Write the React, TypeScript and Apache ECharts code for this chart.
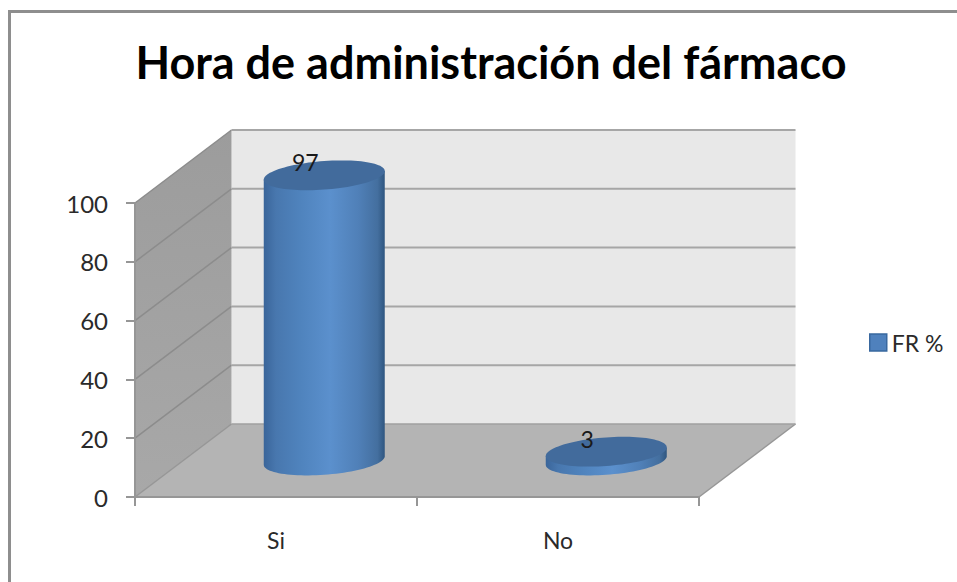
import React, { useEffect, useRef } from "react";
import * as echarts from "echarts";

const titleText = "Hora de administración del fármaco";
const categories = ["Si", "No"];
const seriesName = "FR %";
const values = [97, 3];
const yTicks = [0, 20, 40, 60, 80, 100];
const FONT = "Lato, Carlito, sans-serif";
const DX = 96.5;
const DY = -73;
const RX = 60.5;
const RY = 14.3;
const SHEAR = 4.3;

function halfArc(cx: number, cy: number, from: number, to: number) {
  const pts: number[][] = [];
  const n = 48;
  for (let i = 0; i <= n; i++) {
    const t = from + ((to - from) * i) / n;
    pts.push([cx + RX * Math.cos(t), cy + RY * Math.sin(t) - SHEAR * Math.cos(t)]);
  }
  return pts;
}

function renderWalls(params: any, api: any) {
  const cs = params.coordSys;
  const left = cs.x;
  const right = cs.x + cs.width;
  const y0 = api.coord([0, 0])[1];
  const yMax = api.coord([0, yTicks[yTicks.length - 1]])[1];
  const children: any[] = [
    {
      type: "polygon",
      shape: { points: [[left + DX, yMax + DY], [right + DX, yMax + DY], [right + DX, y0 + DY], [left + DX, y0 + DY]] },
      style: { fill: "#e8e8e8" },
    },
    {
      type: "polygon",
      shape: { points: [[left, y0], [left + DX, y0 + DY], [left + DX, yMax + DY], [left, yMax]] },
      style: { fill: new echarts.graphic.LinearGradient(0, 0, 0, 1, [
        { offset: 0, color: "#9c9c9c" },
        { offset: 1, color: "#a8a8a8" },
      ]) },
    },
    {
      type: "polygon",
      shape: { points: [[left, y0], [right, y0], [right + DX, y0 + DY], [left + DX, y0 + DY]] },
      style: { fill: "#b4b4b4" },
    },
    { type: "line", shape: { x1: left, y1: y0, x2: left + DX, y2: y0 + DY }, style: { stroke: "#969696", lineWidth: 1.5 } },
    { type: "line", shape: { x1: right, y1: y0, x2: right + DX, y2: y0 + DY }, style: { stroke: "#969696", lineWidth: 1.5 } },
    { type: "line", shape: { x1: left + DX, y1: y0 + DY, x2: right + DX, y2: y0 + DY }, style: { stroke: "#a0a0a0", lineWidth: 1.5 } },
  ];
  yTicks.slice(1).forEach((v) => {
    const y = api.coord([0, v])[1];
    children.push(
      { type: "line", shape: { x1: left, y1: y, x2: left + DX, y2: y + DY }, style: { stroke: "#8c8c8c", lineWidth: 1.5 } },
      { type: "line", shape: { x1: left + DX, y1: y + DY, x2: right + DX, y2: y + DY }, style: { stroke: "#a6a6a6", lineWidth: 2 } }
    );
  });
  return { type: "group", children };
}

function renderCylinder(_params: any, api: any) {
  const cat = api.value(0);
  const v = api.value(1);
  const base = api.coord([cat, 0]);
  const top = api.coord([cat, v]);
  const cx = base[0] + DX / 2;
  const yb = base[1] + DY / 2;
  const yt = top[1] + DY / 2;
  const body = [
    ...halfArc(cx, yt, Math.PI, Math.PI),
    ...halfArc(cx, yb, Math.PI, 0),
    ...halfArc(cx, yt, 0, 0),
  ];
  const disc = [...halfArc(cx, yt, Math.PI, 0), ...halfArc(cx, yt, 0, -Math.PI)];
  return {
    type: "group",
    children: [
      {
        type: "polygon",
        shape: { points: body },
        style: {
          fill: new echarts.graphic.LinearGradient(0, 0, 1, 0, [
            { offset: 0, color: "#3a659a" },
            { offset: 0.1, color: "#4877ae" },
            { offset: 0.3, color: "#4f83bd" },
            { offset: 0.55, color: "#5b90cd" },
            { offset: 0.78, color: "#5080b8" },
            { offset: 0.94, color: "#446f9f" },
            { offset: 1, color: "#2f5680" },
          ]),
        },
      },
      { type: "polygon", shape: { points: disc }, style: { fill: "#426b9c" } },
      {
        type: "text",
        x: cx - 19,
        y: yt - 13,
        style: { text: String(v), fill: "#1a1a1a", fontSize: 23, fontFamily: FONT, align: "center", verticalAlign: "middle" },
      },
    ],
  };
}

export default function App() {
  const ref = useRef<HTMLDivElement>(null);
  useEffect(() => {
    const chart = echarts.init(ref.current!, undefined, { renderer: "svg" });
    chart.setOption({
      animation: false,
      backgroundColor: "#ffffff",
      title: {
        text: titleText,
        left: 486,
        top: 34,
        textAlign: "center",
        textStyle: { fontFamily: FONT, fontWeight: "bold", fontSize: 45, color: "#000000" },
      },
      grid: { left: 135, right: 258, top: 203, bottom: 85 },
      legend: {
        left: 864,
        top: 326,
        orient: "vertical",
        itemWidth: 17,
        itemHeight: 17,
        itemGap: 0,
        data: [{ name: seriesName, icon: "rect", itemStyle: { color: "#4f81bd", borderColor: "#39689f", borderWidth: 1.5 } }],
        textStyle: { fontFamily: FONT, fontSize: 23, color: "#2a2a2a" },
      },
      xAxis: {
        type: "category",
        data: categories,
        z: 1,
        axisLine: { lineStyle: { color: "#969696", width: 2 } },
        axisTick: { show: true, length: 9, lineStyle: { color: "#969696", width: 2 } },
        axisLabel: { margin: 31, fontFamily: FONT, fontSize: 23, color: "#2a2a2a" },
        splitLine: { show: false },
      },
      yAxis: {
        type: "value",
        min: 0,
        max: 100,
        interval: 20,
        z: 1,
        axisLine: { show: true, lineStyle: { color: "#969696", width: 2 } },
        axisTick: { show: true, length: 9, lineStyle: { color: "#969696", width: 2 } },
        axisLabel: { margin: 27, fontFamily: FONT, fontSize: 24, color: "#2a2a2a" },
        splitLine: { show: false },
      },
      graphic: [
        {
          type: "polyline",
          silent: true,
          shape: { points: [[9.5, 582], [9.5, 11.5], [957, 11.5]] },
          style: { fill: "none", stroke: "#8e8e8e", lineWidth: 3 },
        },
      ],
      series: [
        {
          type: "custom",
          name: "walls",
          z: 0,
          clip: false,
          silent: true,
          renderItem: renderWalls,
          data: [[0, 0]],
        },
        {
          type: "custom",
          name: seriesName,
          z: 2,
          clip: false,
          itemStyle: { color: "#4f81bd" },
          renderItem: renderCylinder,
          encode: { x: 0, y: 1 },
          data: values.map((v, i) => [i, v]),
        },
      ],
    });
    return () => chart.dispose();
  }, []);
  return <div ref={ref} style={{ position: "fixed", left: 0, top: 0, width: 957, height: 582 }} />;
}
